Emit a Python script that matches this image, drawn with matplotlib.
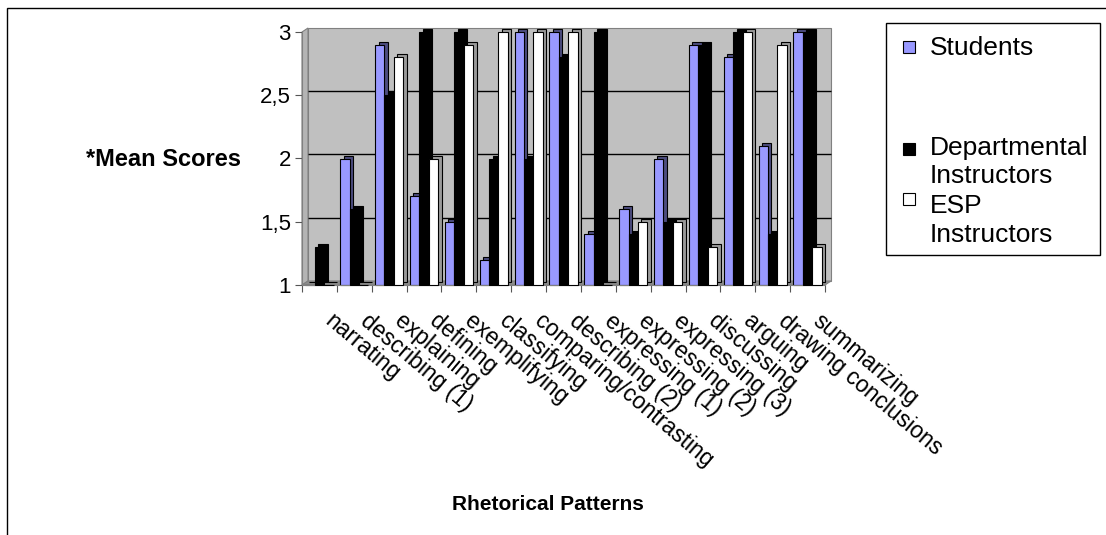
import numpy as np
import matplotlib
matplotlib.use("Agg")
import matplotlib.pyplot as plt
import matplotlib.transforms as mtransforms
from matplotlib.patches import Rectangle, Polygon

plt.rcParams['font.family'] = ['Liberation Sans', 'DejaVu Sans']

# data
categories = ['narrating', 'describing (1)', 'explaining', 'defining', 'exemplifying',
              'classifying', 'comparing/contrasting', 'describing (2)', 'expressing (1)',
              'expressing (2)', 'expressing (3)', 'discussing', 'arguing',
              'drawing conclusions', 'summarizing']
students = [1.0, 2.0, 2.9, 1.7, 1.5, 1.2, 3.0, 3.0, 1.4, 1.6, 2.0, 2.9, 2.8, 2.1, 3.0]
departmental = [1.3, 1.6, 2.5, 3.0, 3.0, 2.0, 2.0, 2.8, 3.0, 1.4, 1.5, 2.9, 3.0, 1.4, 3.0]
esp = [1.0, 1.0, 2.8, 2.0, 2.9, 3.0, 3.0, 3.0, 1.0, 1.5, 1.5, 1.3, 3.0, 2.9, 1.3]

series_names = ['Students', 'Departmental\nInstructors', 'ESP\nInstructors']
series_vals = [students, departmental, esp]
face_cols = ['#9999FF', '#000000', '#FFFFFF']
side_cols = ['#4D4D80', '#000000', '#9A9A9A']

W, H = 1106, 535
fig = plt.figure(figsize=(W / 100, H / 100), dpi=100)
# plot area in pixels
px0, px1, py0, py1 = 302, 825, 285, 32
ax = fig.add_axes([px0 / W, 1 - py0 / H, (px1 - px0) / W, (py0 - py1) / H])
ax.set_facecolor('none')

# pseudo-3D: back wall shifted up/right, side wall and floor
dx, dy = 6, 4
wall = mtransforms.ScaledTranslation(dx / 100, dy / 100, fig.dpi_scale_trans)
ax.add_patch(Rectangle((0, 0), 1, 1, transform=ax.transAxes + wall, clip_on=False,
                       facecolor='#C0C0C0', edgecolor='#808080', lw=0.8, zorder=0))


def fpt(x, y):
    return (x / W, 1 - y / H)


side = [fpt(px0, py0), fpt(px0, py1), fpt(px0 + dx, py1 - dy), fpt(px0 + dx, py0 - dy)]
ax.add_patch(Polygon(side, closed=True, transform=fig.transFigure, facecolor='#B4B4B4',
                     edgecolor='#808080', lw=0.8, zorder=0.5, clip_on=False))
floor = [fpt(px0, py0), fpt(px1, py0), fpt(px1 + dx, py0 - dy), fpt(px0 + dx, py0 - dy)]
ax.add_patch(Polygon(floor, closed=True, transform=fig.transFigure, facecolor='#8C8C8C',
                     edgecolor='#808080', lw=0.8, zorder=0.5, clip_on=False))

ax.set_xlim(-0.5, len(categories) - 0.5)
ax.set_ylim(1, 3)
yt = [1, 1.5, 2, 2.5, 3]
ax.hlines(yt[1:-1], -0.5, len(categories) - 0.5, colors='black', lw=1,
          transform=ax.transData + wall, zorder=1, clip_on=False)

x = np.arange(len(categories))
w = 0.27
base = 1.0
depth = mtransforms.ScaledTranslation(0.035, 0.03, fig.dpi_scale_trans)

for i in range(3):
    pos = x + (i - 1) * w
    heights = np.array(series_vals[i]) - base
    ax.bar(pos, heights, w, bottom=base, color=side_cols[i], edgecolor='black',
           linewidth=0.8, transform=ax.transData + depth, clip_on=False, zorder=2 + i)
    ax.bar(pos, heights, w, bottom=base, color=face_cols[i], edgecolor='black',
           linewidth=0.8, zorder=2 + i, clip_on=False)

ax.set_yticks(yt)
ax.set_yticklabels(['1', '1,5', '2', '2,5', '3'], fontsize=16)
ax.set_xticks(np.arange(len(categories) + 1) - 0.5)
ax.set_xticklabels([])
ax.tick_params(axis='x', length=5, color='#555555')
ax.tick_params(axis='y', length=5, color='#555555', pad=3)
for s in ['top', 'right']:
    ax.spines[s].set_visible(False)
ax.spines['left'].set_color('#808080')
ax.spines['bottom'].set_color('#808080')

# category labels, slanted down to the right
lab_tr = ax.get_xaxis_transform() + mtransforms.ScaledTranslation(0.16, -0.24, fig.dpi_scale_trans)
for xi, name in zip(x, categories):
    ax.text(xi, 0, name, transform=lab_tr, rotation=-40, rotation_mode='anchor',
            ha='left', va='top', fontsize=16.5)

fig.text(163 / W, 1 - 160 / H, '*Mean Scores', fontsize=17, fontweight='bold',
         ha='center', va='center')
fig.text(548 / W, 1 - 505 / H, 'Rhetorical Patterns', fontsize=15, fontweight='bold',
         ha='center', va='center')

# legend box laid out like the original
fig.patches.append(Rectangle((886 / W, 1 - 255 / H), 214 / W, 232 / H,
                             transform=fig.transFigure, fill=False,
                             edgecolor='black', linewidth=1))
handle_y = [47, 149, 199]
for fc, hy in zip(face_cols, handle_y):
    fig.patches.append(Rectangle((903 / W, 1 - (hy + 6) / H), 12 / W, 12 / H,
                                 transform=fig.transFigure, facecolor=fc,
                                 edgecolor='black', linewidth=0.8))
line_base = [[55], [155, 183], [213, 242]]
for name, bases in zip(series_names, line_base):
    for txt, b in zip(name.split('\n'), bases):
        fig.text(930 / W, 1 - b / H, txt, fontsize=19, ha='left', va='baseline')

# outer chart frame (only top and left edges fall inside the image)
fig.patches.append(Rectangle((7 / W, -0.2), 1.2, 1 - 8 / H + 0.2,
                             transform=fig.transFigure, fill=False,
                             edgecolor='black', linewidth=1))

fig.savefig('out.png', dpi=100)
